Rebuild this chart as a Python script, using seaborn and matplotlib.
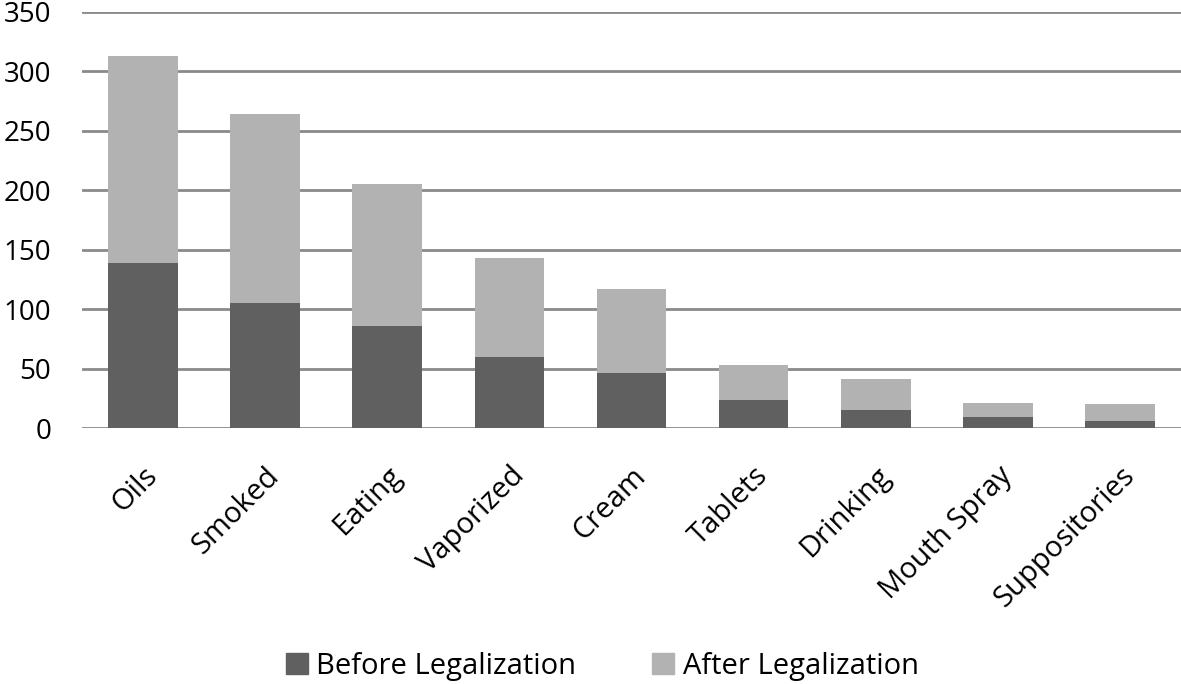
import pandas as pd
import matplotlib.pyplot as plt
import seaborn as sns
from matplotlib.patches import Patch

categories = ['Oils', 'Smoked', 'Eating', 'Vaporized', 'Cream', 'Tablets',
              'Drinking', 'Mouth Spray', 'Suppositories']
before = [139, 105, 86, 60, 46, 24, 15, 9, 6]
after = [174, 159, 119, 83, 71, 29, 26, 12, 14]
y_ticks = [0, 50, 100, 150, 200, 250, 300, 350]

dark = '#606060'
light = '#b2b2b2'
grid_col = '#8a8a8a'

sns.set_style('white')
plt.rcParams['font.family'] = ['Open Sans', 'DejaVu Sans']
plt.rcParams['text.color'] = 'black'
plt.rcParams['xtick.color'] = 'black'
plt.rcParams['ytick.color'] = 'black'

df = pd.DataFrame({'cat': categories, 'before': before, 'after': after})
df['total'] = df['before'] + df['after']

fig = plt.figure(figsize=(11.81, 6.84), dpi=100)
ax = fig.add_axes([0.0694, 0.374, 0.9306, 0.6085])

# stacked: totals in light grey first, then the "before" part drawn over it
sns.barplot(data=df, x='cat', y='total', color=light, width=0.57,
            saturation=1, linewidth=0, ax=ax, zorder=3)
sns.barplot(data=df, x='cat', y='before', color=dark, width=0.57,
            saturation=1, linewidth=0, ax=ax, zorder=4)

ax.set_ylim(0, 350)
ax.set_xlim(-0.5, len(categories) - 0.5)
ax.set_yticks(y_ticks)
ax.set_yticklabels([str(t) for t in y_ticks], fontsize=20)
ax.yaxis.grid(True, color=grid_col, linewidth=2, zorder=0)
ax.set_axisbelow(True)
for s in ax.spines.values():
    s.set_visible(False)
ax.tick_params(axis='both', length=0, labelcolor='black')
ax.tick_params(axis='y', pad=22)
ax.set_xlabel('')
ax.set_ylabel('')
ax.set_xticks(range(len(categories)))
ax.set_xticklabels(categories, rotation=45, ha='right', rotation_mode='anchor',
                   fontsize=21)
ax.tick_params(axis='x', pad=24)

handles = [Patch(color=dark, label='Before Legalization'),
           Patch(color=light, label='After Legalization')]
fig.legend(handles=handles, loc='center', bbox_to_anchor=(0.51, 0.026),
           ncol=2, frameon=False, fontsize=21, handlelength=0.75,
           handleheight=0.75, handletextpad=0.3, columnspacing=2.6)

plt.savefig('out.png', dpi=100)
